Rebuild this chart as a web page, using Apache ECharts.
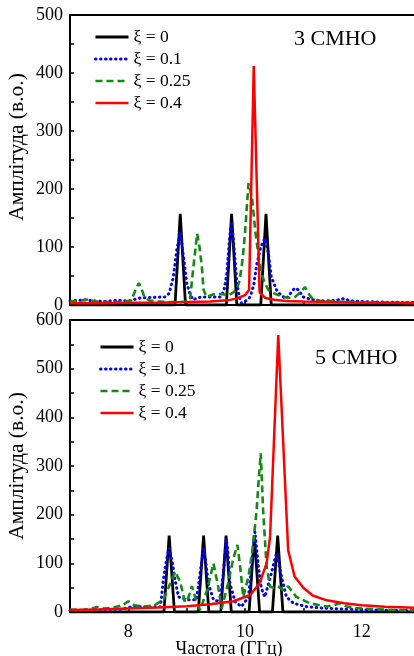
<!DOCTYPE html>
<html>
<head>
<meta charset="utf-8">
<script src="https://cdn.jsdelivr.net/npm/echarts@6/dist/echarts.min.js"></script>
<style>
html,body{margin:0;padding:0;background:#fff;}
#chart{width:414px;height:656px;}
</style>
</head>
<body>
<div id="chart"></div>
<script>
// ---- Legend / series names ----
const seriesNames = ['ξ = 0', 'ξ = 0.1', 'ξ = 0.25', 'ξ = 0.4'];
const panelTitles = ['3 СМНО', '5 СМНО'];
const yAxisTitle = 'Амплітуда (в.о.)';
const xAxisTitle = 'Частота (ГГц)';
const xTickValues = [8, 10, 12];

// ---- Top panel (3 СМНО): [frequency GHz, amplitude] ----
const top_xi0 = [[7,0],[8.80,0],[8.89,157],[8.98,0],[9.68,0],[9.77,157],[9.86,0],[10.27,0],[10.36,157],[10.45,0],[13,0]];
const top_xi01 = [[7.0,7],[7.15,8],[7.27,9],[7.4,7],[7.6,6],[7.8,8],[8.0,7],[8.2,12],[8.4,13],[8.63,14],[8.7,20],[8.77,47],[8.83,95],[8.89,126],[8.95,80],[9.0,38],[9.06,18],[9.11,9],[9.18,12],[9.26,14],[9.4,14],[9.58,14],[9.64,25],[9.69,55],[9.73,110],[9.77,144],[9.82,90],[9.86,38],[9.9,15],[9.94,3],[10.0,6],[10.09,14],[10.15,35],[10.2,69],[10.27,100],[10.34,115],[10.4,90],[10.45,49],[10.54,26],[10.62,16],[10.71,11],[10.78,20],[10.85,29],[10.92,26],[10.99,14],[11.16,9],[11.35,7],[11.55,8],[11.7,11],[11.8,7],[12.0,6],[12.4,5],[13,4]];
const top_xi025 = [[7.0,6],[7.15,7],[7.3,9],[7.45,6],[7.7,5],[7.9,5],[8.05,8],[8.12,25],[8.18,38],[8.22,30],[8.27,15],[8.35,8],[8.5,6],[8.7,5],[8.9,5],[9.0,6],[9.06,12],[9.12,70],[9.18,123],[9.22,100],[9.26,66],[9.29,26],[9.34,14],[9.45,18],[9.58,19],[9.72,17],[9.85,25],[9.91,43],[9.96,80],[10.0,124],[10.06,210],[10.12,185],[10.18,124],[10.24,80],[10.28,55],[10.34,38],[10.4,26],[10.5,20],[10.57,17],[10.66,14],[10.74,12],[10.86,14],[10.95,22],[11.03,31],[11.1,18],[11.17,9],[11.3,7],[11.6,6],[12.0,5],[12.5,4],[13,4]];
const top_xi04 = [[7.0,3],[7.5,3],[8.0,4],[8.5,4],[9.0,5],[9.4,6],[9.7,8],[9.85,11],[10.0,17],[10.07,26],[10.15,412],[10.25,22],[10.35,12],[10.5,9],[10.7,7],[11.0,6],[11.5,5],[12.0,4],[12.5,4],[13,3]];

// ---- Bottom panel (5 СМНО): [frequency GHz, amplitude] ----
const bot_xi0 = [[7,0],[8.61,0],[8.70,157],[8.79,0],[9.20,0],[9.29,157],[9.38,0],[9.585,0],[9.675,157],[9.765,0],[10.07,0],[10.16,157],[10.25,0],[10.47,0],[10.56,157],[10.65,0],[13,0]];
const bot_xi01 = [[7.0,3],[7.3,4],[7.6,5],[7.9,6],[8.03,10],[8.3,11],[8.55,11],[8.6,66],[8.65,105],[8.7,131],[8.75,105],[8.8,66],[8.86,31],[8.95,27],[9.03,25],[9.17,25],[9.23,80],[9.29,130],[9.33,100],[9.37,59],[9.46,25],[9.57,21],[9.63,80],[9.68,150],[9.71,120],[9.74,59],[9.83,21],[9.94,11],[10.06,31],[10.11,93],[10.17,165],[10.23,93],[10.28,49],[10.34,31],[10.43,70],[10.54,121],[10.63,70],[10.71,31],[10.83,18],[11.05,11],[11.33,8],[11.7,6],[12.2,4],[12.6,3],[13,3]];
const bot_xi025 = [[7.0,5],[7.2,4],[7.35,6],[7.45,10],[7.58,7],[7.75,9],[7.9,14],[8.0,22],[8.1,14],[8.29,11],[8.45,14],[8.6,25],[8.72,59],[8.8,83],[8.89,62],[8.97,20],[9.03,30],[9.09,53],[9.17,21],[9.23,4],[9.35,45],[9.46,100],[9.54,52],[9.6,7],[9.71,59],[9.8,110],[9.87,138],[9.92,90],[9.97,31],[10.06,73],[10.12,120],[10.17,175],[10.2,210],[10.24,280],[10.27,326],[10.31,210],[10.37,93],[10.43,52],[10.5,50],[10.57,52],[10.66,45],[10.74,53],[10.88,31],[11.11,18],[11.4,11],[11.52,14],[11.62,18],[11.75,11],[11.9,8],[12.2,6],[12.6,4],[13,3]];
const bot_xi04 = [[7.0,4],[7.5,5],[8.0,7],[8.5,9],[9.0,12],[9.4,16],[9.8,22],[10.09,35],[10.25,59],[10.37,100],[10.43,155],[10.57,569],[10.74,127],[10.85,73],[11.0,50],[11.16,34],[11.4,24],[11.7,18],[12.0,14],[12.4,11],[13,8]];

const colors = ['#000000', '#0000ff', '#138a13', '#ff0000'];
const lineTypes = ['solid', [0.5, 4.5], [7, 4], 'solid'];
const widths = [2.8, 3, 2.6, 2.5];
const caps = ['butt', 'round', 'butt', 'butt'];

const FONT = 'Liberation Serif';

function makeSeries(dataArr, gridIdx) {
  return dataArr.map((d, i) => ({
    name: seriesNames[i],
    type: 'line',
    xAxisIndex: gridIdx,
    yAxisIndex: gridIdx,
    data: d,
    symbol: 'none',
    showSymbol: false,
    smooth: false,
    animation: false,
    z: 2 + i,
    lineStyle: { color: colors[i], width: widths[i], type: lineTypes[i], cap: caps[i] },
    itemStyle: { color: colors[i] }
  }));
}

function xAxisFor(gridIdx, showLabels) {
  return {
    type: 'value', gridIndex: gridIdx, min: 7, max: 13, interval: 1,
    axisLine: { show: true, onZero: false, lineStyle: { color: '#000', width: 2 } },
    axisTick: { show: true, inside: true, length: 4, lineStyle: { color: '#000', width: 1.5 } },
    axisLabel: {
      show: showLabels, color: '#000', fontFamily: FONT, fontSize: 18, margin: 11,
      showMinLabel: true, showMaxLabel: true, hideOverlap: false,
      formatter: v => xTickValues.indexOf(v) >= 0 ? String(v) : ''
    },
    splitLine: { show: false }
  };
}

function yAxisFor(gridIdx, maxV, pad) {
  return {
    type: 'value', gridIndex: gridIdx, min: 0, max: maxV, interval: 50,
    name: yAxisTitle, nameLocation: 'middle', nameGap: 42, nameMoveOverlap: false,
    nameTextStyle: { color: '#000', fontFamily: FONT, fontSize: 21.5, padding: pad },
    axisLine: { show: true, lineStyle: { color: '#000', width: 2 } },
    axisTick: { show: true, inside: true, length: 4, lineStyle: { color: '#000', width: 1.5 } },
    axisLabel: {
      color: '#000', fontFamily: FONT, fontSize: 18, margin: 7,
      showMinLabel: true, showMaxLabel: true, hideOverlap: false,
      formatter: v => (v % 100 === 0 ? String(v) : '')
    },
    splitLine: { show: false }
  };
}

function legendFor(left, top) {
  return {
    data: seriesNames.map((n, i) => ({
      name: n,
      itemStyle: { opacity: 0, borderWidth: 0 },
      lineStyle: { color: colors[i], width: widths[i], type: lineTypes[i], cap: caps[i] }
    })),
    orient: 'vertical', left: left, top: top,
    itemWidth: 33, itemHeight: 14, itemGap: 4,
    textStyle: { color: '#000', fontFamily: FONT, fontSize: 17.5 },
    selectedMode: false
  };
}

const chart = echarts.init(document.getElementById('chart'), null, { renderer: 'canvas' });
chart.setOption({
  backgroundColor: '#fff',
  animation: false,
  title: [
    { text: panelTitles[0], left: 289, top: 23, textStyle: { color: '#000', fontFamily: FONT, fontSize: 22, fontWeight: 'normal' } },
    { text: panelTitles[1], left: 310, top: 342, textStyle: { color: '#000', fontFamily: FONT, fontSize: 22, fontWeight: 'normal' } },
    { text: xAxisTitle, left: 224, top: 635, textAlign: 'center', textStyle: { color: '#000', fontFamily: FONT, fontSize: 18, fontWeight: 'normal' } }
  ],
  legend: [legendFor(89, 23), legendFor(94, 333)],
  grid: [
    { left: 70, top: 15, height: 290, width: 350, outerBoundsMode: 'none', containLabel: false, show: true, borderColor: '#000', borderWidth: 2, backgroundColor: 'transparent' },
    { left: 70, top: 320, height: 292, width: 350, outerBoundsMode: 'none', containLabel: false, show: true, borderColor: '#000', borderWidth: 2, backgroundColor: 'transparent' }
  ],
  xAxis: [xAxisFor(0, false), xAxisFor(1, true)],
  yAxis: [yAxisFor(0, 500, [0, 0, 0, 26]), yAxisFor(1, 600, [0, 0, 0, 0])],
  series: [
    ...makeSeries([top_xi0, top_xi01, top_xi025, top_xi04], 0),
    ...makeSeries([bot_xi0, bot_xi01, bot_xi025, bot_xi04], 1)
  ]
});
</script>
</body>
</html>
